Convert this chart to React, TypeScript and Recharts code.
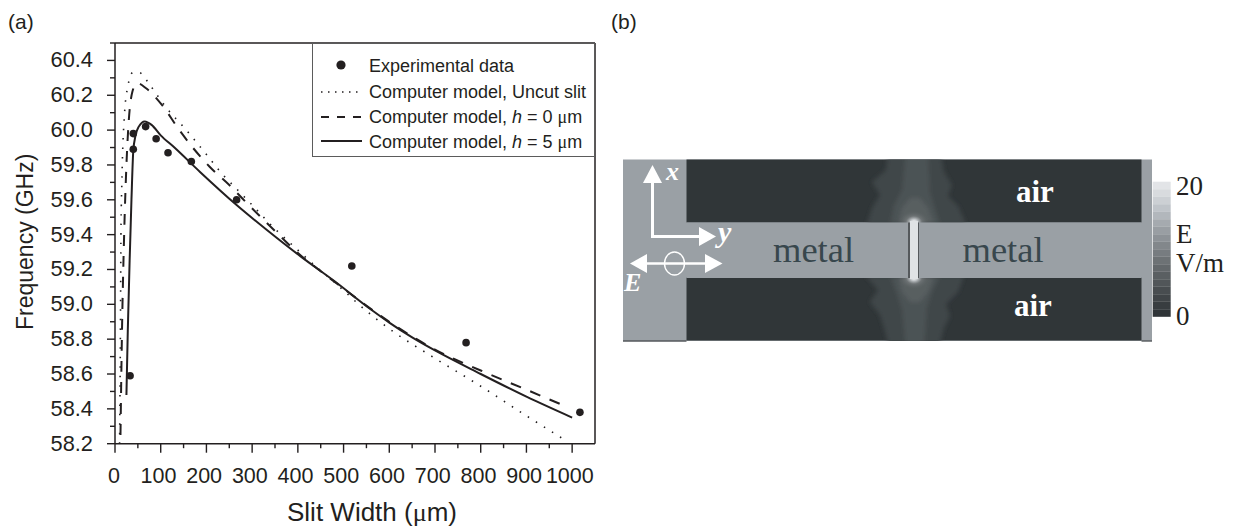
import React from 'react';
import { ComposedChart, Line, XAxis, YAxis, Legend, Label } from 'recharts';

const FONT = '"Liberation Sans", Arial, sans-serif';
const SERIF = '"Liberation Serif", "Times New Roman", serif';
const INK = '#231f20';

// values: [slit width um, frequency GHz]
const experimental = [
  { x: 33, y: 58.59 }, { x: 40, y: 59.89 }, { x: 40, y: 59.98 }, { x: 67, y: 60.02 },
  { x: 90, y: 59.95 }, { x: 116, y: 59.87 }, { x: 167, y: 59.82 }, { x: 266, y: 59.6 },
  { x: 518, y: 59.22 }, { x: 768, y: 58.78 }, { x: 1017, y: 58.38 },
];
const uncutSlit = [
  { x: 10, y: 58.2 }, { x: 12, y: 58.9 }, { x: 13, y: 59.4 }, { x: 15, y: 59.7 }, { x: 21, y: 60.1 },
  { x: 28, y: 60.25 }, { x: 39, y: 60.33 }, { x: 53, y: 60.33 }, { x: 71, y: 60.28 }, { x: 87, y: 60.22 },
  { x: 112, y: 60.13 }, { x: 156, y: 60.0 }, { x: 200, y: 59.86 }, { x: 234, y: 59.75 }, { x: 267, y: 59.66 },
  { x: 300, y: 59.57 }, { x: 351, y: 59.43 }, { x: 384, y: 59.35 }, { x: 417, y: 59.27 }, { x: 500, y: 59.08 },
  { x: 533, y: 59.0 }, { x: 600, y: 58.86 }, { x: 700, y: 58.69 }, { x: 800, y: 58.53 }, { x: 900, y: 58.36 }, { x: 985, y: 58.22 },
];
const modelH0 = [
  { x: 12, y: 58.25 }, { x: 15, y: 58.8 }, { x: 20, y: 59.4 }, { x: 25, y: 59.8 }, { x: 30, y: 60.05 },
  { x: 38, y: 60.22 }, { x: 48, y: 60.27 }, { x: 68, y: 60.24 }, { x: 104, y: 60.14 }, { x: 138, y: 60.01 },
  { x: 170, y: 59.9 }, { x: 207, y: 59.79 }, { x: 250, y: 59.685 }, { x: 285, y: 59.59 }, { x: 325, y: 59.485 },
  { x: 362, y: 59.39 }, { x: 402, y: 59.29 }, { x: 450, y: 59.19 }, { x: 500, y: 59.09 }, { x: 600, y: 58.9 },
  { x: 700, y: 58.74 }, { x: 800, y: 58.62 }, { x: 900, y: 58.51 }, { x: 990, y: 58.41 },
];
const modelH5 = [
  { x: 25, y: 58.48 }, { x: 28, y: 58.85 }, { x: 32, y: 59.25 }, { x: 36, y: 59.6 }, { x: 40, y: 59.88 },
  { x: 45, y: 59.97 }, { x: 52, y: 60.02 }, { x: 65, y: 60.05 }, { x: 80, y: 60.03 }, { x: 100, y: 59.97 },
  { x: 130, y: 59.9 }, { x: 186, y: 59.76 }, { x: 266, y: 59.57 }, { x: 333, y: 59.425 }, { x: 406, y: 59.275 },
  { x: 479, y: 59.135 }, { x: 560, y: 58.97 }, { x: 600, y: 58.895 }, { x: 650, y: 58.81 }, { x: 700, y: 58.735 },
  { x: 800, y: 58.6 }, { x: 900, y: 58.47 }, { x: 1000, y: 58.35 },
];

const xTicks = [0, 50, 100, 150, 200, 250, 300, 350, 400, 450, 500, 550, 600, 650, 700, 750, 800, 850, 900, 950, 1000];
const yTicks = [58.2, 58.3, 58.4, 58.5, 58.6, 58.7, 58.8, 58.9, 59.0, 59.1, 59.2, 59.3, 59.4, 59.5, 59.6, 59.7, 59.8, 59.9, 60.0, 60.1, 60.2, 60.3, 60.4, 60.5];
const colorbarGreys = ['#e2e4e7', '#d8dbde', '#ccd0d4', '#bfc4c9', '#b2b7bc', '#a5aaaf', '#999ea3', '#8d9297', '#82878b', '#777c80', '#6d7275', '#63686b', '#5a5f62', '#515659', '#484d50', '#404548', '#383d40', '#303538'];

const isMajorX = (v: number) => v % 100 === 0;
const isMajorY = (v: number) => Math.round(v * 10) % 2 === 0;

const BottomTick = ({ x, y, payload }: any) => {
  const major = isMajorX(payload.value);
  return (
    <g>
      <line x1={x} x2={x} y1={y} y2={y + (major ? 9 : 4.5)} stroke={INK} strokeWidth={1.4} />
      {major && (
        <text x={x - (payload.value === 0 ? 1 : 2.3)} y={y + 39} textAnchor="middle" fontSize={21.5} fontFamily={FONT} fill={INK}>
          {payload.value}
        </text>
      )}
    </g>
  );
};
const TopTick = ({ x, y, payload }: any) => (
  <line x1={x} x2={x} y1={y} y2={y + (isMajorX(payload.value) ? 9 : 4)} stroke={INK} strokeWidth={1.4} />
);
const LeftTick = ({ x, y, payload }: any) => {
  const major = isMajorY(payload.value);
  return (
    <g>
      <line x1={x} x2={x - (major ? 8 : 5)} y1={y} y2={y} stroke={INK} strokeWidth={1.4} />
      {major && payload.value < 60.5 && (
        <text x={x - 22} y={y + 7} textAnchor="end" fontSize={21.8} fontFamily={FONT} fill={INK}>
          {payload.value.toFixed(1)}
        </text>
      )}
    </g>
  );
};
const RightTick = ({ x, y, payload }: any) => (
  <line x1={x} x2={x - (isMajorY(payload.value) ? 8 : 4)} y1={y} y2={y} stroke={INK} strokeWidth={1.4} />
);

const LegendBox = () => {
  const row = { position: 'absolute', left: 56, fontSize: 18, whiteSpace: 'nowrap', lineHeight: '22px' } as const;
  const it = { fontStyle: 'italic' } as const;
  const mu = { fontFamily: SERIF } as const;
  return (
    <div style={{ position: 'relative', width: 283, height: 114, background: '#fff', border: '1.4px solid #5b5b5b', boxSizing: 'border-box', fontFamily: FONT, color: INK }}>
      <svg width={56} height={114} style={{ position: 'absolute', left: 0, top: 0 }}>
        <circle cx={28} cy={21} r={4.6} fill={INK} />
        <line x1={8} x2={49} y1={48} y2={48} stroke={INK} strokeWidth={1.6} strokeDasharray="1.5 5.5" />
        <line x1={8} x2={49} y1={73} y2={73} stroke={INK} strokeWidth={2} strokeDasharray="8 8" />
        <line x1={8} x2={49} y1={97} y2={97} stroke={INK} strokeWidth={2} />
      </svg>
      <span style={{ ...row, top: 11 }}>Experimental data</span>
      <span style={{ ...row, top: 37 }}>Computer model, Uncut slit</span>
      <span style={{ ...row, top: 62 }}>Computer model, <span style={it}>h</span> = 0 <span style={mu}>μ</span>m</span>
      <span style={{ ...row, top: 87 }}>Computer model, <span style={it}>h</span> = 5 <span style={mu}>μ</span>m</span>
    </div>
  );
};

const FrequencyPanel = () => (
  <ComposedChart
    width={610}
    height={528}
    margin={{ left: 114, right: 14, top: 42, bottom: 83.3 }}
    style={{ position: 'absolute', left: 0, top: 0 }}
  >
    <XAxis type="number" dataKey="x" domain={[0, 1050]} ticks={xTicks} interval={0} height={1} tickLine={false} tickSize={0} tickMargin={0} tick={<BottomTick />} axisLine={{ stroke: INK, strokeWidth: 1.5 }}>
      <Label content={() => (
        <text x={287} y={521} fontSize={26} fontFamily={FONT} fill={INK}>
          Slit Width (<tspan fontFamily={SERIF}>μ</tspan>m)
        </text>
      )} />
    </XAxis>
    <XAxis xAxisId="top" orientation="top" type="number" domain={[0, 1050]} ticks={xTicks} interval={0} height={1} tickLine={false} tickSize={0} tickMargin={0} tick={<TopTick />} axisLine={{ stroke: INK, strokeWidth: 1.5 }} />
    <YAxis type="number" domain={[58.2, 60.5]} ticks={yTicks} interval={0} width={1} tickLine={false} tickSize={0} tickMargin={0} tick={<LeftTick />} axisLine={{ stroke: INK, strokeWidth: 1.5 }}>
      <Label content={() => (
        <text x={0} y={0} transform="translate(32.5,330) rotate(-90)" fontSize={23} fontFamily={FONT} fill={INK}>
          Frequency (GHz)
        </text>
      )} />
    </YAxis>
    <YAxis yAxisId="right" orientation="right" type="number" domain={[58.2, 60.5]} ticks={yTicks} interval={0} width={1} tickLine={false} tickSize={0} tickMargin={0} tick={<RightTick />} axisLine={{ stroke: INK, strokeWidth: 1.5 }} />
    <Line data={uncutSlit} dataKey="y" name="Computer model, Uncut slit" type="monotone" stroke={INK} strokeWidth={1.6} strokeDasharray="1.5 8" dot={false} isAnimationActive={false} />
    <Line data={modelH0} dataKey="y" name="Computer model, h = 0" type="monotone" stroke={INK} strokeWidth={2} strokeDasharray="11 10" dot={false} isAnimationActive={false} />
    <Line data={modelH5} dataKey="y" name="Computer model, h = 5" type="monotone" stroke={INK} strokeWidth={2} dot={false} isAnimationActive={false} />
    <Line data={experimental} dataKey="y" name="Experimental data" stroke="none" dot={{ r: 3.8, fill: INK, stroke: 'none' }} isAnimationActive={false} />
    <Legend
      layout="vertical"
      align="center"
      verticalAlign="middle"
      content={() => <LegendBox />}
      wrapperStyle={{ position: 'absolute', left: 312, top: 43, width: 283, height: 114, margin: 0 }}
    />
  </ComposedChart>
);

const FieldPanel = () => {
  const METAL = '#9aa0a5';
  const AIR = '#303638';
  return (
    <svg width={1233} height={528} style={{ position: 'absolute', left: 0, top: 0, pointerEvents: 'none' }}>
      <defs>
        <radialGradient id="glow" cx="50%" cy="50%" r="50%">
          <stop offset="0%" stopColor="#ffffff" />
          <stop offset="22%" stopColor="#c2c6c9" />
          <stop offset="50%" stopColor="#727779" stopOpacity={0.8} />
          <stop offset="100%" stopColor="#555b5d" stopOpacity={0} />
        </radialGradient>
        <filter id="soft"><feGaussianBlur stdDeviation="2" /></filter>
      </defs>
      <text x={8} y={29} fontSize={21} fontFamily={FONT} fill={INK}>(a)</text>
      <text x={611} y={29} fontSize={21} fontFamily={FONT} fill={INK}>(b)</text>

      <rect x={623} y={159.5} width={529} height={181.5} fill={METAL} />
      <rect x={686.5} y={159.5} width={455} height={63} fill={AIR} />
      <rect x={686.5} y={277.5} width={455} height={63} fill={AIR} />

      <svg x={623} y={159.5} width={529} height={181.5}>
        <g filter="url(#soft)" transform="translate(-623,-159.5)">
          <polygon fill="#414749" points="867,224 872,208 880,195 872,182 886,170 888,150 940,150 944,172 952,185 948,196 958,206 966,224" />
          <polygon fill="#414749" points="866,276 878,290 870,302 880,315 884,328 890,350 938,350 944,328 950,316 946,304 958,292 964,276" />
          <polygon fill="#4c5254" points="890,224 894,205 902,190 906,150 928,150 930,192 934,206 940,224" />
          <polygon fill="#4c5254" points="890,276 897,294 902,310 906,350 924,350 927,308 932,292 940,276" />
          <polygon fill="#585e60" points="898,224 902,208 910,198 920,198 928,208 934,224" />
          <polygon fill="#585e60" points="898,276 902,292 910,302 920,302 928,292 934,276" />
        </g>
      </svg>
      <ellipse cx={914} cy={222} rx={16} ry={12} fill="url(#glow)" />
      <ellipse cx={914} cy={278} rx={16} ry={12} fill="url(#glow)" />

      <rect x={686.5} y={222.5} width={222} height={55.5} fill={METAL} />
      <rect x={918} y={222.5} width={223.5} height={55.5} fill={METAL} />
      <rect x={908} y={222.5} width={11} height={55.5} fill="#55595c" />
      <rect x={910} y={221} width={8} height={58} fill="#e0e3e5" />
      <line x1={623} x2={686.5} y1={341} y2={341} stroke="#55595c" strokeWidth={1.4} />
      <line x1={1141.5} x2={1152} y1={341} y2={341} stroke="#55595c" strokeWidth={1.4} />

      <text x={773} y={261.5} fontSize={36.5} fontFamily={SERIF} fill="#38474d">metal</text>
      <text x={962.5} y={261.5} fontSize={36.5} fontFamily={SERIF} fill="#38474d">metal</text>
      <text x={1016} y={201.5} fontSize={31} fontWeight="bold" fontFamily={SERIF} fill="#fff">air</text>
      <text x={1014} y={316} fontSize={31} fontWeight="bold" fontFamily={SERIF} fill="#fff">air</text>

      <g stroke="#fff" fill="#fff">
        <line x1={652.5} x2={652.5} y1={237} y2={178} strokeWidth={3} />
        <polygon stroke="none" points="652.5,165 643,183 662,183" />
        <line x1={651} x2={702} y1={236.5} y2={236.5} strokeWidth={3} />
        <polygon stroke="none" points="716,236.5 699,227 699,246" />
        <line x1={640} x2={710} y1={263.5} y2={263.5} strokeWidth={2.6} />
        <polygon stroke="none" points="630,263.5 647,254 647,273" />
        <polygon stroke="none" points="722.5,263.5 705,254 705,273" />
        <ellipse cx={674.5} cy={263.5} rx={10} ry={11.5} fill="none" strokeWidth={1.4} />
      </g>
      <text x={666} y={180} fontSize={26} fontStyle="italic" fontWeight="bold" fontFamily={SERIF} fill="#fff">x</text>
      <text x={718} y={242} fontSize={30} fontStyle="italic" fontWeight="bold" fontFamily={SERIF} fill="#fff">y</text>
      <text x={624} y={291} fontSize={26} fontStyle="italic" fontWeight="bold" fontFamily={SERIF} fill="#fff">E</text>

      {colorbarGreys.map((c, i) => (
        <rect key={c} x={1152.7} y={181.7 + i * 7.5} width={18} height={7.6} fill={c} />
      ))}
      <text x={1176} y={195} fontSize={27} fontFamily={SERIF} fill={INK}>20</text>
      <text x={1176} y={243} fontSize={27} fontFamily={SERIF} fill={INK}>E</text>
      <text x={1176} y={272} fontSize={27} fontFamily={SERIF} fill={INK}>V/m</text>
      <text x={1176} y={325} fontSize={27} fontFamily={SERIF} fill={INK}>0</text>
    </svg>
  );
};

export default function App() {
  return (
    <div style={{ position: 'absolute', left: 0, top: 0, width: 1233, height: 528, background: '#fff', overflow: 'hidden' }}>
      <FrequencyPanel />
      <FieldPanel />
    </div>
  );
}
